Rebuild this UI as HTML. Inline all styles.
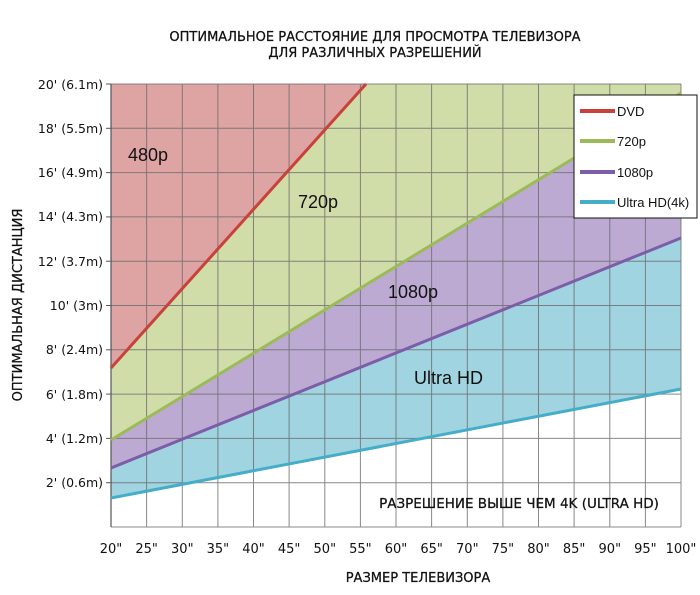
<!DOCTYPE html>
<html><head><meta charset="utf-8"><style>
body{margin:0;background:#fff;}
svg text{font-family:"DejaVu Sans","Liberation Sans",sans-serif;}
</style></head><body>
<svg width="700" height="590" viewBox="0 0 700 590" xmlns="http://www.w3.org/2000/svg">
<text x="375" y="41" text-anchor="middle" font-size="13" fill="#111" stroke="#111" stroke-width="0.25">ОПТИМАЛЬНОЕ РАССТОЯНИЕ ДЛЯ ПРОСМОТРА ТЕЛЕВИЗОРА</text>
<text x="375" y="57" text-anchor="middle" font-size="13" fill="#111" stroke="#111" stroke-width="0.25">ДЛЯ РАЗЛИЧНЫХ РАЗРЕШЕНИЙ</text>
<polygon points="111,84 366,84 111,368" fill="#dea3a3"/>
<polygon points="366,84 681,84 681,93 111,440 111,368" fill="#d0dda9"/>
<polygon points="681,93 681,238 111,468 111,440" fill="#bcaad3"/>
<polygon points="681,238 681,389 111,498 111,468" fill="#a0d4e0"/>
<g stroke="#6b6b6b" stroke-width="1" opacity="0.8">
<line x1="146.6" y1="84" x2="146.6" y2="527"/><line x1="182.3" y1="84" x2="182.3" y2="527"/><line x1="217.9" y1="84" x2="217.9" y2="527"/><line x1="253.5" y1="84" x2="253.5" y2="527"/><line x1="289.1" y1="84" x2="289.1" y2="527"/><line x1="324.8" y1="84" x2="324.8" y2="527"/><line x1="360.4" y1="84" x2="360.4" y2="527"/><line x1="396" y1="84" x2="396" y2="527"/><line x1="431.6" y1="84" x2="431.6" y2="527"/><line x1="467.3" y1="84" x2="467.3" y2="527"/><line x1="502.9" y1="84" x2="502.9" y2="527"/><line x1="538.5" y1="84" x2="538.5" y2="527"/><line x1="574.1" y1="84" x2="574.1" y2="527"/><line x1="609.8" y1="84" x2="609.8" y2="527"/><line x1="645.4" y1="84" x2="645.4" y2="527"/><line x1="681" y1="84" x2="681" y2="527"/>
<line x1="111" y1="84" x2="681" y2="84"/><line x1="111" y1="128.3" x2="681" y2="128.3"/><line x1="111" y1="172.6" x2="681" y2="172.6"/><line x1="111" y1="216.9" x2="681" y2="216.9"/><line x1="111" y1="261.2" x2="681" y2="261.2"/><line x1="111" y1="305.5" x2="681" y2="305.5"/><line x1="111" y1="349.8" x2="681" y2="349.8"/><line x1="111" y1="394.1" x2="681" y2="394.1"/><line x1="111" y1="438.4" x2="681" y2="438.4"/><line x1="111" y1="482.7" x2="681" y2="482.7"/><line x1="111" y1="527" x2="681" y2="527"/>
</g>
<line x1="111" y1="84" x2="111" y2="527" stroke="#555" stroke-width="1.2"/>
<g stroke="#555"><line x1="106" y1="84" x2="111" y2="84"/><line x1="106" y1="128.3" x2="111" y2="128.3"/><line x1="106" y1="172.6" x2="111" y2="172.6"/><line x1="106" y1="216.9" x2="111" y2="216.9"/><line x1="106" y1="261.2" x2="111" y2="261.2"/><line x1="106" y1="305.5" x2="111" y2="305.5"/><line x1="106" y1="349.8" x2="111" y2="349.8"/><line x1="106" y1="394.1" x2="111" y2="394.1"/><line x1="106" y1="438.4" x2="111" y2="438.4"/><line x1="106" y1="482.7" x2="111" y2="482.7"/></g>
<line x1="111" y1="368" x2="366" y2="84" stroke="#c9413b" stroke-width="3"/>
<line x1="111" y1="440" x2="681" y2="93" stroke="#9bbb59" stroke-width="3"/>
<line x1="111" y1="468" x2="681" y2="238" stroke="#7c5ea8" stroke-width="3"/>
<line x1="111" y1="498" x2="681" y2="389" stroke="#45adc8" stroke-width="3"/>
<g font-size="12.5" fill="#111" text-anchor="end">
<text x="103" y="89">20' (6.1m)</text><text x="103" y="133">18' (5.5m)</text><text x="103" y="177">16' (4.9m)</text><text x="103" y="221">14' (4.3m)</text><text x="103" y="266">12' (3.7m)</text><text x="103" y="310">10' (3m)</text><text x="103" y="354">8' (2.4m)</text><text x="103" y="399">6' (1.8m)</text><text x="103" y="443">4' (1.2m)</text><text x="103" y="487">2' (0.6m)</text>
</g>
<text transform="translate(22,305) rotate(-90)" text-anchor="middle" font-size="13" fill="#111" stroke="#111" stroke-width="0.25">ОПТИМАЛЬНАЯ ДИСТАНЦИЯ</text>
<g font-size="13" fill="#111" text-anchor="middle">
<text x="111" y="553">20"</text><text x="146.6" y="553">25"</text><text x="182.3" y="553">30"</text><text x="217.9" y="553">35"</text><text x="253.5" y="553">40"</text><text x="289.1" y="553">45"</text><text x="324.8" y="553">50"</text><text x="360.4" y="553">55"</text><text x="396" y="553">60"</text><text x="431.6" y="553">65"</text><text x="467.3" y="553">70"</text><text x="502.9" y="553">75"</text><text x="538.5" y="553">80"</text><text x="574.1" y="553">85"</text><text x="609.8" y="553">90"</text><text x="645.4" y="553">95"</text><text x="681" y="553">100"</text>
</g>
<text x="418" y="582" text-anchor="middle" font-size="13" fill="#111" stroke="#111" stroke-width="0.25">РАЗМЕР ТЕЛЕВИЗОРА</text>
<text x="519" y="508" text-anchor="middle" font-size="13.5" fill="#111" stroke="#111" stroke-width="0.25">РАЗРЕШЕНИЕ ВЫШЕ ЧЕМ 4K (ULTRA HD)</text>
<g font-size="18" fill="#111">
<text x="128" y="161" style="font-family:'Liberation Sans',sans-serif">480p</text>
<text x="298" y="208" style="font-family:'Liberation Sans',sans-serif">720p</text>
<text x="388" y="298" style="font-family:'Liberation Sans',sans-serif">1080p</text>
<text x="414" y="384" style="font-family:'Liberation Sans',sans-serif">Ultra HD</text>
</g>
<rect x="574" y="95" width="123" height="123" fill="#fff" stroke="#111" stroke-width="1"/>
<g stroke-width="4"><line x1="580" y1="111" x2="615" y2="111" stroke="#c9413b"/><line x1="580" y1="141" x2="615" y2="141" stroke="#9bbb59"/><line x1="580" y1="172" x2="615" y2="172" stroke="#7c5ea8"/><line x1="580" y1="202" x2="615" y2="202" stroke="#45adc8"/></g>
<g font-size="13" fill="#111">
<text x="617" y="116" style="font-family:'Liberation Sans',sans-serif">DVD</text><text x="617" y="146" style="font-family:'Liberation Sans',sans-serif">720p</text><text x="617" y="177" style="font-family:'Liberation Sans',sans-serif">1080p</text><text x="617" y="207" style="font-family:'Liberation Sans',sans-serif">Ultra HD(4k)</text>
</g>
</svg>
</body></html>
